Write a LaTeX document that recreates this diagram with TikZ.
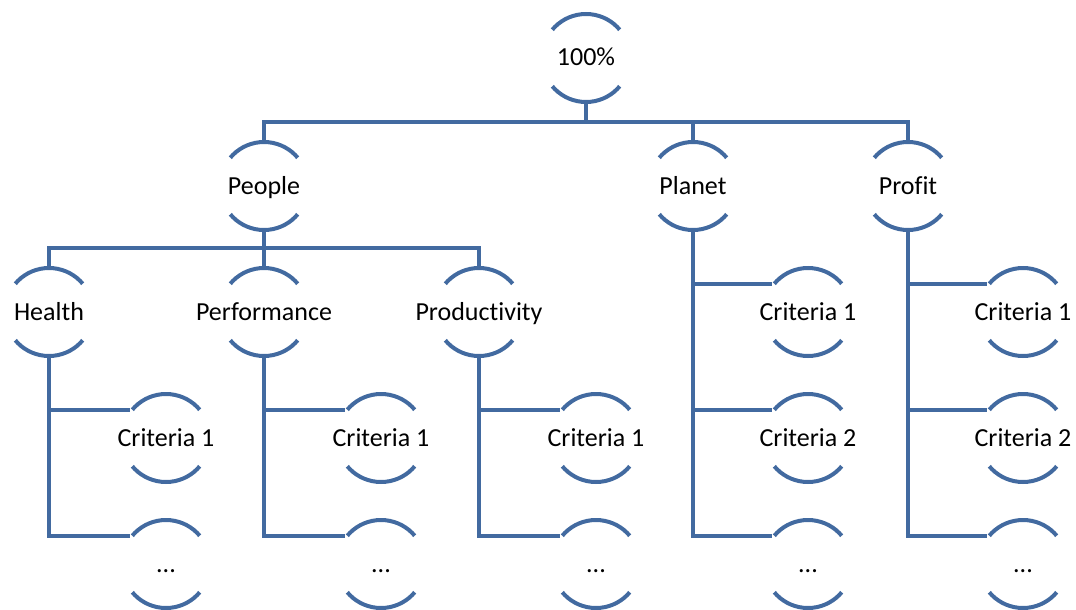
\documentclass[tikz,border=0pt]{standalone}
\usepackage{fontspec}
\setmainfont{Carlito}[Ligatures=NoCommon]
\usetikzlibrary{positioning}
\definecolor{cline}{RGB}{66,106,160}
\tikzset{
	hub/.style={%
			circle,%
			draw=cline,%
			line width=4pt,%
			minimum size=88pt,%
			inner sep=0pt,%
			dash pattern={on 76.8pt off 61.4pt},%
			dash phase=107.5pt,%
			label={[text height=16pt, text depth=0pt]center:#1}},%
	wire/.style={%
			draw=cline,%
			line width=4pt},%
}

\begin{document}
\begin{tikzpicture}[x=1pt, y=-1pt, font=\fontsize{26}{30}\selectfont, node distance=34pt]
	\useasboundingbox (0,0) rectangle (1076,610);

	\node[hub=100\%] (total) at (586,58) {};

	\node[hub=People] (people) at (264,186) {};
	\node[hub=Planet] (planet) at (693,186) {};
	\node[hub=Profit] (profit) at (908,186) {};

	\node[hub=Health] (health) at (49,312) {};
	\node[hub=Performance] (performance) at (264,312) {};
	\node[hub=Productivity] (productivity) at (479,312) {};

	% criteria under each leaf
	\node[hub=Criteria 1] (health1) [below=of health, xshift=117pt] {};
	\node[hub=...] (health2) [below=of health1] {};
	\node[hub=Criteria 1] (perf1) [below=of performance, xshift=117pt] {};
	\node[hub=...] (perf2) [below=of perf1] {};
	\node[hub=Criteria 1] (prod1) [below=of productivity, xshift=117pt] {};
	\node[hub=...] (prod2) [below=of prod1] {};

	\node[hub=Criteria 1] (planet1) [below=of planet, xshift=115pt] {};
	\node[hub=Criteria 2] (planet2) [below=of planet1] {};
	\node[hub=...] (planet3) [below=of planet2] {};
	\node[hub=Criteria 1] (profit1) [below=of profit, xshift=115pt] {};
	\node[hub=Criteria 2] (profit2) [below=of profit1] {};
	\node[hub=...] (profit3) [below=of profit2] {};

	\coordinate (bus1) at (586,122);
	\coordinate (bus2) at (264,248);

	\draw[wire] (total) -- (bus1);
	\draw[wire] (people) |- (bus1) -| (profit);
	\draw[wire] (planet) -- (planet |- bus1);

	\draw[wire] (people) -- (bus2);
	\draw[wire] (health) |- (bus2) -| (productivity);
	\draw[wire] (performance) -- (performance |- bus2);

	\draw[wire] (health) |- (health1.142);
	\draw[wire] (health) |- (health2.142);
	\draw[wire] (performance) |- (perf1.142);
	\draw[wire] (performance) |- (perf2.142);
	\draw[wire] (productivity) |- (prod1.142);
	\draw[wire] (productivity) |- (prod2.142);

	\draw[wire] (planet) |- (planet1.142);
	\draw[wire] (planet) |- (planet2.142);
	\draw[wire] (planet) |- (planet3.142);
	\draw[wire] (profit) |- (profit1.142);
	\draw[wire] (profit) |- (profit2.142);
	\draw[wire] (profit) |- (profit3.142);
\end{tikzpicture}
\end{document}
